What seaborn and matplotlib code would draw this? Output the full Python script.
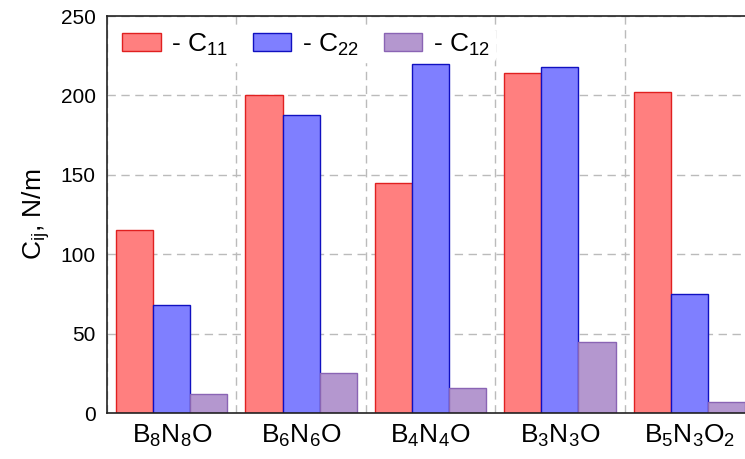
import pandas as pd
import seaborn as sns
import matplotlib.pyplot as plt
from matplotlib.ticker import MultipleLocator

sns.set_style("white")
plt.rcParams['font.family'] = ['Liberation Sans', 'DejaVu Sans']
plt.rcParams['mathtext.fontset'] = 'custom'
plt.rcParams['mathtext.rm'] = 'Liberation Sans'
plt.rcParams['mathtext.default'] = 'regular'
plt.rcParams['text.color'] = 'black'
plt.rcParams['axes.labelcolor'] = 'black'
plt.rcParams['xtick.color'] = 'black'
plt.rcParams['ytick.color'] = 'black'

structures = ['B$_8$N$_8$O', 'B$_6$N$_6$O', 'B$_4$N$_4$O', 'B$_3$N$_3$O', 'B$_5$N$_3$O$_2$']
c11 = [115, 200, 145, 214, 202]
c22 = [68, 188, 220, 218, 75]
c12 = [12, 25, 16, 45, 7]

components = ['- C$_{11}$', '- C$_{22}$', '- C$_{12}$']
fills = ['#ff7f7f', '#7f7fff', '#b497cf']
edges = ['#e02020', '#1010c0', '#8a64b4']

df = pd.DataFrame({
    'structure': structures * 3,
    'component': [components[0]] * 5 + [components[1]] * 5 + [components[2]] * 5,
    'value': c11 + c22 + c12,
})

fig = plt.figure(figsize=(7.45, 4.59), dpi=100)
ax = fig.add_axes([0.1436, 0.1002, 0.8564, 0.8648])

sns.barplot(data=df, x='structure', y='value', hue='component',
            palette=fills, width=0.86, saturation=1, ax=ax, zorder=2)

for cont, ec in zip(ax.containers, edges):
    for bar in cont:
        bar.set_edgecolor(ec)
        bar.set_linewidth(1.0)

ax.set_ylim(0, 250)
ax.set_xlim(-0.5, 4.43)
ax.yaxis.set_major_locator(MultipleLocator(50))
ax.xaxis.set_minor_locator(MultipleLocator(1, offset=0.5))
ax.grid(axis='y', which='major', ls=(0, (6, 4)), color='#bbbbbb', lw=1, zorder=0)
ax.grid(axis='x', which='minor', ls=(0, (6, 4)), color='#bbbbbb', lw=1, zorder=0)
ax.grid(axis='x', which='major', visible=False)
ax.set_axisbelow(True)

for side in ['left', 'bottom', 'top']:
    ax.spines[side].set_visible(True)
    ax.spines[side].set_color('#222222')
    ax.spines[side].set_linewidth(1.2)
ax.spines['right'].set_visible(False)

ax.tick_params(axis='both', which='both', length=0)
ax.tick_params(axis='y', labelsize=15, pad=8)
ax.tick_params(axis='x', labelsize=19, pad=7)
ax.set_xlabel('')
ax.set_ylabel('C$_{ij}$, N/m', fontsize=19, labelpad=6)

handles, labels = ax.get_legend_handles_labels()
for h, ec in zip(handles, edges):
    h.set_edgecolor(ec)
leg = ax.legend(handles, labels, loc='upper left', ncol=3, fontsize=19,
                frameon=True, facecolor='white', edgecolor='white', framealpha=1,
                handlelength=1.45, handleheight=0.7, handletextpad=0.4,
                columnspacing=0.95, borderaxespad=0.4, borderpad=0.18)
leg.set_zorder(1)

fig.savefig('out.png', dpi=100)
